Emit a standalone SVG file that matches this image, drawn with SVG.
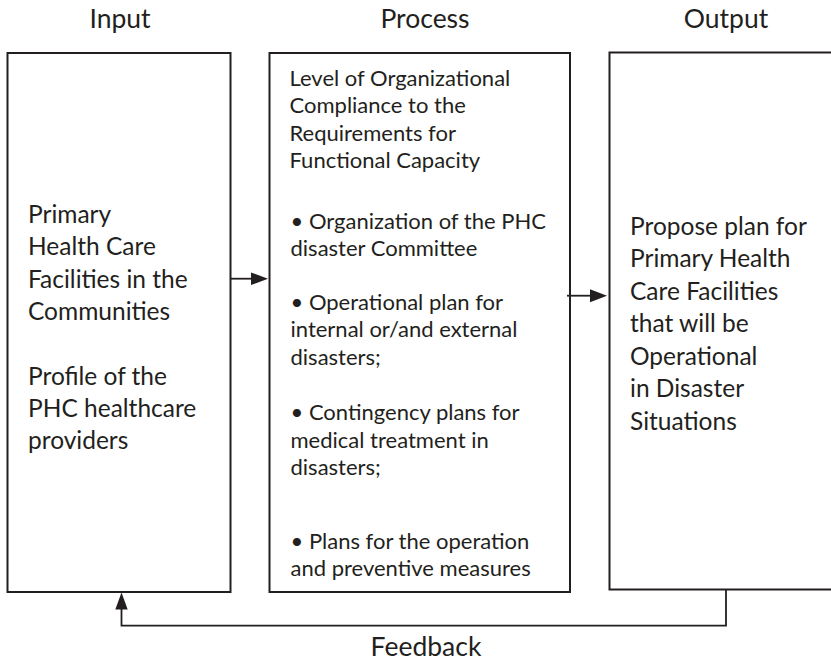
<svg xmlns="http://www.w3.org/2000/svg" width="831" height="666" viewBox="0 0 831 666">
  <style>
    .box { fill: #ffffff; stroke: #231f20; stroke-width: 2; }
    .wire { fill: none; stroke: #231f20; stroke-width: 1.8; }
    .head { fill: #231f20; stroke: none; }
    text { font-family: Lato, "Open Sans", "Liberation Sans", sans-serif; fill: #231f20; }
    .title { font-size: 26.5px; text-anchor: middle; }
    .big { font-size: 24.5px; }
    .mid { font-size: 22px; }
  </style>
  <rect width="831" height="666" fill="#ffffff"/>

  <!-- column headings -->
  <text class="title" x="120" y="28">Input</text>
  <text class="title" x="425" y="28">Process</text>
  <text class="title" x="726" y="28">Output</text>

  <!-- input stage -->
  <g id="input">
    <rect class="box" x="7.5" y="53" width="223" height="539"/>
    <text class="big">
      <tspan x="28" y="223">Primary</tspan>
      <tspan x="28" y="255.3">Health Care</tspan>
      <tspan x="28" y="287.6">Facilities in the</tspan>
      <tspan x="28" y="319.9">Communities</tspan>
      <tspan x="28" y="384.5">Profile of the</tspan>
      <tspan x="28" y="416.8">PHC healthcare</tspan>
      <tspan x="28" y="449.1">providers</tspan>
    </text>
  </g>

  <!-- process stage -->
  <g id="process">
    <rect class="box" x="269.5" y="53" width="300.5" height="539"/>
    <text class="mid">
      <tspan x="289.5" y="85.5">Level of Organizational</tspan>
      <tspan x="289.5" y="113">Compliance to the</tspan>
      <tspan x="289.5" y="140.5">Requirements for</tspan>
      <tspan x="289.5" y="168">Functional Capacity</tspan>
      <tspan x="290.5" y="228.7">• Organization of the PHC</tspan>
      <tspan x="290.5" y="256.2">disaster Committee</tspan>
      <tspan x="290.5" y="309.7">• Operational plan for</tspan>
      <tspan x="290.5" y="337.2">internal or/and external</tspan>
      <tspan x="290.5" y="364.7">disasters;</tspan>
      <tspan x="290.5" y="420">• Contingency plans for</tspan>
      <tspan x="290.5" y="447.5">medical treatment in</tspan>
      <tspan x="290.5" y="475">disasters;</tspan>
      <tspan x="290.5" y="548.5">• Plans for the operation</tspan>
      <tspan x="290.5" y="576">and preventive measures</tspan>
    </text>
  </g>

  <!-- output stage (runs off the right edge) -->
  <g id="output">
    <rect class="box" x="609.5" y="52.5" width="240" height="537"/>
    <text class="big">
      <tspan x="630" y="234.5">Propose plan for</tspan>
      <tspan x="630" y="267">Primary Health</tspan>
      <tspan x="630" y="299.5">Care Facilities</tspan>
      <tspan x="630" y="332">that will be</tspan>
      <tspan x="630" y="364.5">Operational</tspan>
      <tspan x="630" y="397">in Disaster</tspan>
      <tspan x="630" y="429.5">Situations</tspan>
    </text>
  </g>

  <!-- connectors -->
  <g id="connectors">
    <line class="wire" x1="231" y1="278.7" x2="254" y2="278.7"/>
    <polygon class="head" points="268,278.7 251,272.4 251,285"/>
    <line class="wire" x1="567" y1="295.7" x2="592" y2="295.7"/>
    <polygon class="head" points="607,295.7 590,289.2 590,302.2"/>
    <polyline class="wire" points="726,589.5 726,625.7 121.5,625.7 121.5,606"/>
    <polygon class="head" points="121.5,592.5 115.3,609.5 127.7,609.5"/>
    <text class="title" x="426" y="656">Feedback</text>
  </g>
</svg>
